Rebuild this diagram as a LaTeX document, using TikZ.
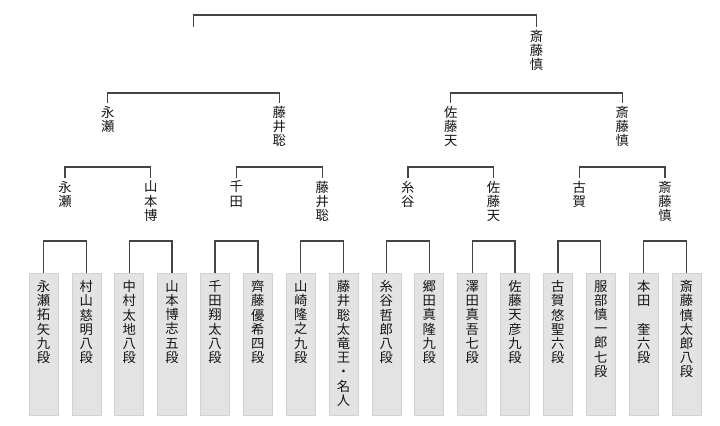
\documentclass[tikz,border=0pt]{standalone}
\usepackage{fontspec}
\usepackage{tikz}
\usetikzlibrary{positioning}
\newfontfamily\jpfont{Noto Sans CJK JP}
\definecolor{BracketLine}{HTML}{444444}
\definecolor{BoxFill}{HTML}{E3E3E3}
\definecolor{BoxEdge}{HTML}{D2D2D2}
\definecolor{TextInk}{HTML}{151515}
\newcommand{\tatebox}[1]{\parbox[c][96pt][t]{12pt}{\centering #1}}
\begin{document}
\begin{tikzpicture}[x=0.75pt,y=-0.75pt,
  player/.style={draw=BoxEdge,fill=BoxFill,line width=0.6pt,anchor=north,
        inner xsep=0pt,inner ysep=5.25pt,minimum width=21.75pt,text=TextInk,
        font={\jpfont\fontsize{10pt}{10.65pt}\selectfont}},
  winner/.style={anchor=north,align=center,inner xsep=0pt,inner ysep=2pt,
        text=TextInk,font={\jpfont\fontsize{10pt}{10.65pt}\selectfont}},
  bracket/.style={draw=BracketLine,line width=1pt}]
  \useasboundingbox (0,0) rectangle (720,425);
  % players
  \node[player] (nagase)   at (43.5,273)  {\tatebox{永\\瀬\\拓\\矢\\九\\段}};
  \node[player] (murayama) at (86.4,273)  {\tatebox{村\\山\\慈\\明\\八\\段}};
  \node[player] (nakamura) at (129.2,273) {\tatebox{中\\村\\太\\地\\八\\段}};
  \node[player] (yamamoto) at (172.1,273) {\tatebox{山\\本\\博\\志\\五\\段}};
  \node[player] (senda)    at (215.0,273) {\tatebox{千\\田\\翔\\太\\八\\段}};
  \node[player] (saitoY)   at (257.9,273) {\tatebox{齊\\藤\\優\\希\\四\\段}};
  \node[player] (yamasaki) at (300.7,273) {\tatebox{山\\崎\\隆\\之\\九\\段}};
  \node[player] (fujii)    at (343.6,273) {\tatebox{藤\\井\\聡\\太\\竜\\王\\・\\名\\人}};
  \node[player] (itodani)  at (386.4,273) {\tatebox{糸\\谷\\哲\\郎\\八\\段}};
  \node[player] (goda)     at (429.3,273) {\tatebox{郷\\田\\真\\隆\\九\\段}};
  \node[player] (sawada)   at (472.2,273) {\tatebox{澤\\田\\真\\吾\\七\\段}};
  \node[player] (sato)     at (515.1,273) {\tatebox{佐\\藤\\天\\彦\\九\\段}};
  \node[player] (koga)     at (557.9,273) {\tatebox{古\\賀\\悠\\聖\\六\\段}};
  \node[player] (hattori)  at (600.8,273) {\tatebox{服\\部\\慎\\一\\郎\\七\\段}};
  \node[player] (honda)    at (643.7,273) {\tatebox{本\\田\\\mbox{}\\奎\\六\\段}};
  \node[player] (saitoS)   at (686.5,273) {\tatebox{斎\\藤\\慎\\太\\郎\\八\\段}};
  % first round
  \draw[bracket] (nagase.north)   -- ++(0,-32) -| (murayama.north);
  \draw[bracket] (nakamura.north) -- ++(0,-32) -| (yamamoto.north);
  \draw[bracket] (senda.north)    -- ++(0,-32) -| (saitoY.north);
  \draw[bracket] (yamasaki.north) -- ++(0,-32) -| (fujii.north);
  \draw[bracket] (itodani.north)  -- ++(0,-32) -| (goda.north);
  \draw[bracket] (sawada.north)   -- ++(0,-32) -| (sato.north);
  \draw[bracket] (koga.north)     -- ++(0,-32) -| (hattori.north);
  \draw[bracket] (honda.north)    -- ++(0,-32) -| (saitoS.north);
  % second round
  \node[winner] (nagaseB)   at (65.0,178)  {永\\瀬};
  \node[winner] (yamamotoB) at (150.7,178) {山\\本\\博};
  \node[winner] (sendaB)    at (236.4,178) {千\\田};
  \node[winner] (fujiiB)    at (322.2,178) {藤\\井\\聡};
  \node[winner] (itodaniB)  at (407.9,178) {糸\\谷};
  \node[winner] (satoB)     at (493.6,178) {佐\\藤\\天};
  \node[winner] (kogaB)     at (579.4,178) {古\\賀};
  \node[winner] (saitoB)    at (665.1,178) {斎\\藤\\慎};
  \draw[bracket] (nagaseB.north)  -- ++(0,-11) -| (yamamotoB.north);
  \draw[bracket] (sendaB.north)   -- ++(0,-11) -| (fujiiB.north);
  \draw[bracket] (itodaniB.north) -- ++(0,-11) -| (satoB.north);
  \draw[bracket] (kogaB.north)    -- ++(0,-11) -| (saitoB.north);
  % semifinals
  \node[winner] (nagaseC) at (107.8,103) {永\\瀬};
  \node[winner] (fujiiC)  at (279.3,103) {藤\\井\\聡};
  \node[winner] (satoC)   at (450.7,103) {佐\\藤\\天};
  \node[winner] (saitoC)  at (622.2,103) {斎\\藤\\慎};
  \draw[bracket] (nagaseC.north) -- ++(0,-10) -| (fujiiC.north);
  \draw[bracket] (satoC.north)   -- ++(0,-10) -| (saitoC.north);
  % final
  \coordinate (leftF) at (193.6,27);
  \node[winner] (saitoD) at (536.5,27) {斎\\藤\\慎};
  \draw[bracket] (leftF) -- ++(0,-12) -| (saitoD.north);
\end{tikzpicture}
\end{document}
